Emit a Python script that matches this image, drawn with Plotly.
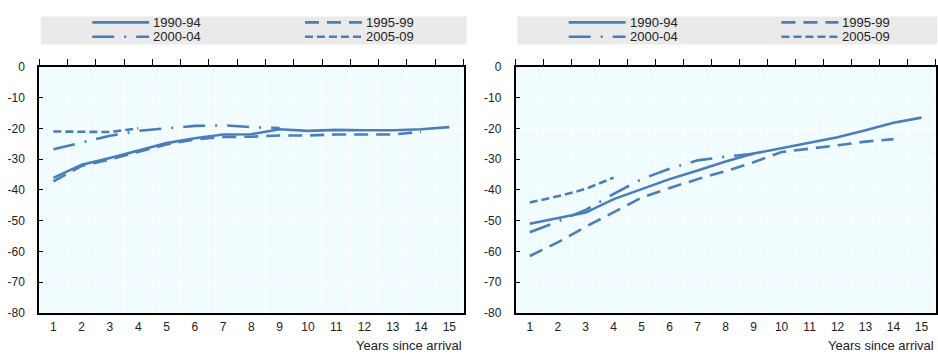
import plotly.graph_objects as go

# ---------------- data ----------------
years = list(range(1, 16))
year_labels = [str(y) for y in years]
cohorts = ["1990-94", "1995-99", "2000-04", "2005-09"]
y_ticks = [0, -10, -20, -30, -40, -50, -60, -70, -80]
y_tick_labels = ["0", "-10", "-20", "-30", "-40", "-50", "-60", "-70", "-80"]

left_1990 = [-36.1, -31.8, -29.6, -27.3, -24.8, -23.2, -22.0, -21.9, -20.3, -20.8, -20.5, -20.6, -20.6, -20.3, -19.6]
left_1995 = [-37.2, -32.2, -30.1, -27.6, -25.2, -23.6, -22.8, -22.7, -22.3, -22.3, -22.0, -22.0, -22.0, -21.1]
left_2000 = [-26.8, -24.5, -22.4, -20.8, -19.9, -19.2, -19.0, -19.6, -19.9]
left_2005 = [-21.0, -21.1, -21.2, -20.0]

right_1990 = [-51.0, -49.1, -47.4, -43.0, -39.7, -36.5, -33.7, -30.8, -28.2, -26.4, -24.6, -22.9, -20.6, -18.2, -16.5]
right_1995 = [-61.5, -57.1, -52.0, -47.2, -42.5, -39.4, -36.5, -33.9, -31.0, -27.7, -26.7, -25.5, -24.3, -23.5]
right_2000 = [-53.8, -50.3, -46.5, -41.3, -36.5, -33.1, -30.4, -29.2, -28.3]
right_2005 = [-44.1, -42.1, -39.7, -36.0]

# ---------------- style ----------------
W, H = 938, 359
COLOR = "#4a7ebb"
LW = 2.6
dashes = ["solid", "14px,8px", "22px,10px,2px,10px", "8px,4px"]
FONT = "Liberation Sans, Arial, sans-serif"
TXT = "#222"

left_dom = [39.3 / W, 464.0 / W]
right_dom = [516.3 / W, 936.5 / W]
y_dom = [1 - 318.3 / H, 1 - 62.3 / H]

fig = go.Figure()

# per panel: (top tick axis, bottom label axis, y axis, series)
panels = [
    ("x", "x3", "y", [left_1990, left_1995, left_2000, left_2005]),
    ("x2", "x4", "y2", [right_1990, right_1995, right_2000, right_2005]),
]
# 1995-09 cohorts on the top (tick) axis, 1990-94 on the overlaid bottom
# (label) axis; both axes share the same range
order = [1, 2, 3, 0]
for xtop, xbot, ya, series in panels:
    for i in order:
        vals = series[i]
        fig.add_trace(go.Scatter(
            x=years[:len(vals)], y=vals, name=cohorts[i], mode="lines",
            line=dict(color=COLOR, width=LW, dash=dashes[i]),
            xaxis=(xbot if i == 0 else xtop), yaxis=ya, showlegend=False,
        ))

boundaries = [i + 0.5 for i in range(0, 16)]

def top_axis(dom, anchor):
    return dict(domain=dom, anchor=anchor, range=[0.5, 15.5], side="top",
                showline=True, linecolor="black", linewidth=2, mirror=True,
                ticks="outside", tickvals=boundaries, ticklen=6, tickwidth=1.3,
                tickcolor="black", showticklabels=False, showgrid=True,
                gridcolor="white", gridwidth=1, zeroline=False)

def y_axis(anchor):
    return dict(domain=y_dom, anchor=anchor, range=[-80, 0], tickvals=y_ticks,
                ticktext=y_tick_labels,
                ticks="inside", ticklen=4, tickwidth=1.3, tickcolor="black",
                showline=True, linecolor="black", linewidth=2, mirror=True,
                showgrid=True, gridcolor="white", gridwidth=1, zeroline=False,
                ticklabelstandoff=10, tickfont=dict(size=12, color=TXT))

def label_axis(over, anchor):
    return dict(overlaying=over, anchor=anchor, side="bottom", range=[0.5, 15.5],
                tickvals=years, ticktext=year_labels, showgrid=False,
                showline=False, ticks="", zeroline=False, ticklabelstandoff=5,
                tickfont=dict(size=12, color=TXT))

fig.update_layout(
    width=W, height=H,
    margin=dict(l=0, r=0, t=0, b=0),
    paper_bgcolor="white",
    plot_bgcolor="#F0FCFF",
    font=dict(family=FONT, size=12, color=TXT),
    showlegend=False,
    xaxis=top_axis(left_dom, "y"),
    yaxis=y_axis("x"),
    xaxis2=top_axis(right_dom, "y2"),
    yaxis2=y_axis("x2"),
    xaxis3=label_axis("x", "y"),
    xaxis4=label_axis("x2", "y2"),
)

# ---------------- legends (drawn per panel) ----------------
shapes = []
annotations = []

def px(xp):
    return xp / W

def py(yp):
    return 1 - yp / H

for x0, box_r, x_right in [(39.3, 467.0, 464.0), (516.3, 938.0, 936.5)]:
    shapes.append(dict(type="rect", xref="paper", yref="paper",
                       x0=px(x0 + 1.5), x1=px(box_r), y0=py(39), y1=py(10),
                       fillcolor="#EAEAEA", line=dict(width=0), layer="below"))
    offsets = [(53, 16), (266, 16), (53, 31), (266, 31)]
    for (dx, yy), name, dash in zip(offsets, cohorts, dashes):
        shapes.append(dict(type="line", xref="paper", yref="paper",
                           x0=px(x0 + dx), x1=px(x0 + dx + 57), y0=py(yy), y1=py(yy),
                           line=dict(color=COLOR, width=LW, dash=dash)))
        annotations.append(dict(text=name, xref="paper", yref="paper",
                                x=px(x0 + dx + 59), y=py(yy), xanchor="left",
                                yanchor="middle", showarrow=False,
                                font=dict(size=13, color=TXT, family=FONT)))
    annotations.append(dict(text="Years since arrival", xref="paper", yref="paper",
                            x=px(x_right), y=py(352.5), xanchor="right",
                            yanchor="middle", showarrow=False,
                            font=dict(size=13, color=TXT, family=FONT)))

fig.update_layout(shapes=shapes, annotations=annotations)

fig.write_html(
    "out.html",
    config={"displayModeBar": False},
    post_script="document.body.style.margin='0px';document.body.style.padding='0px';",
)
